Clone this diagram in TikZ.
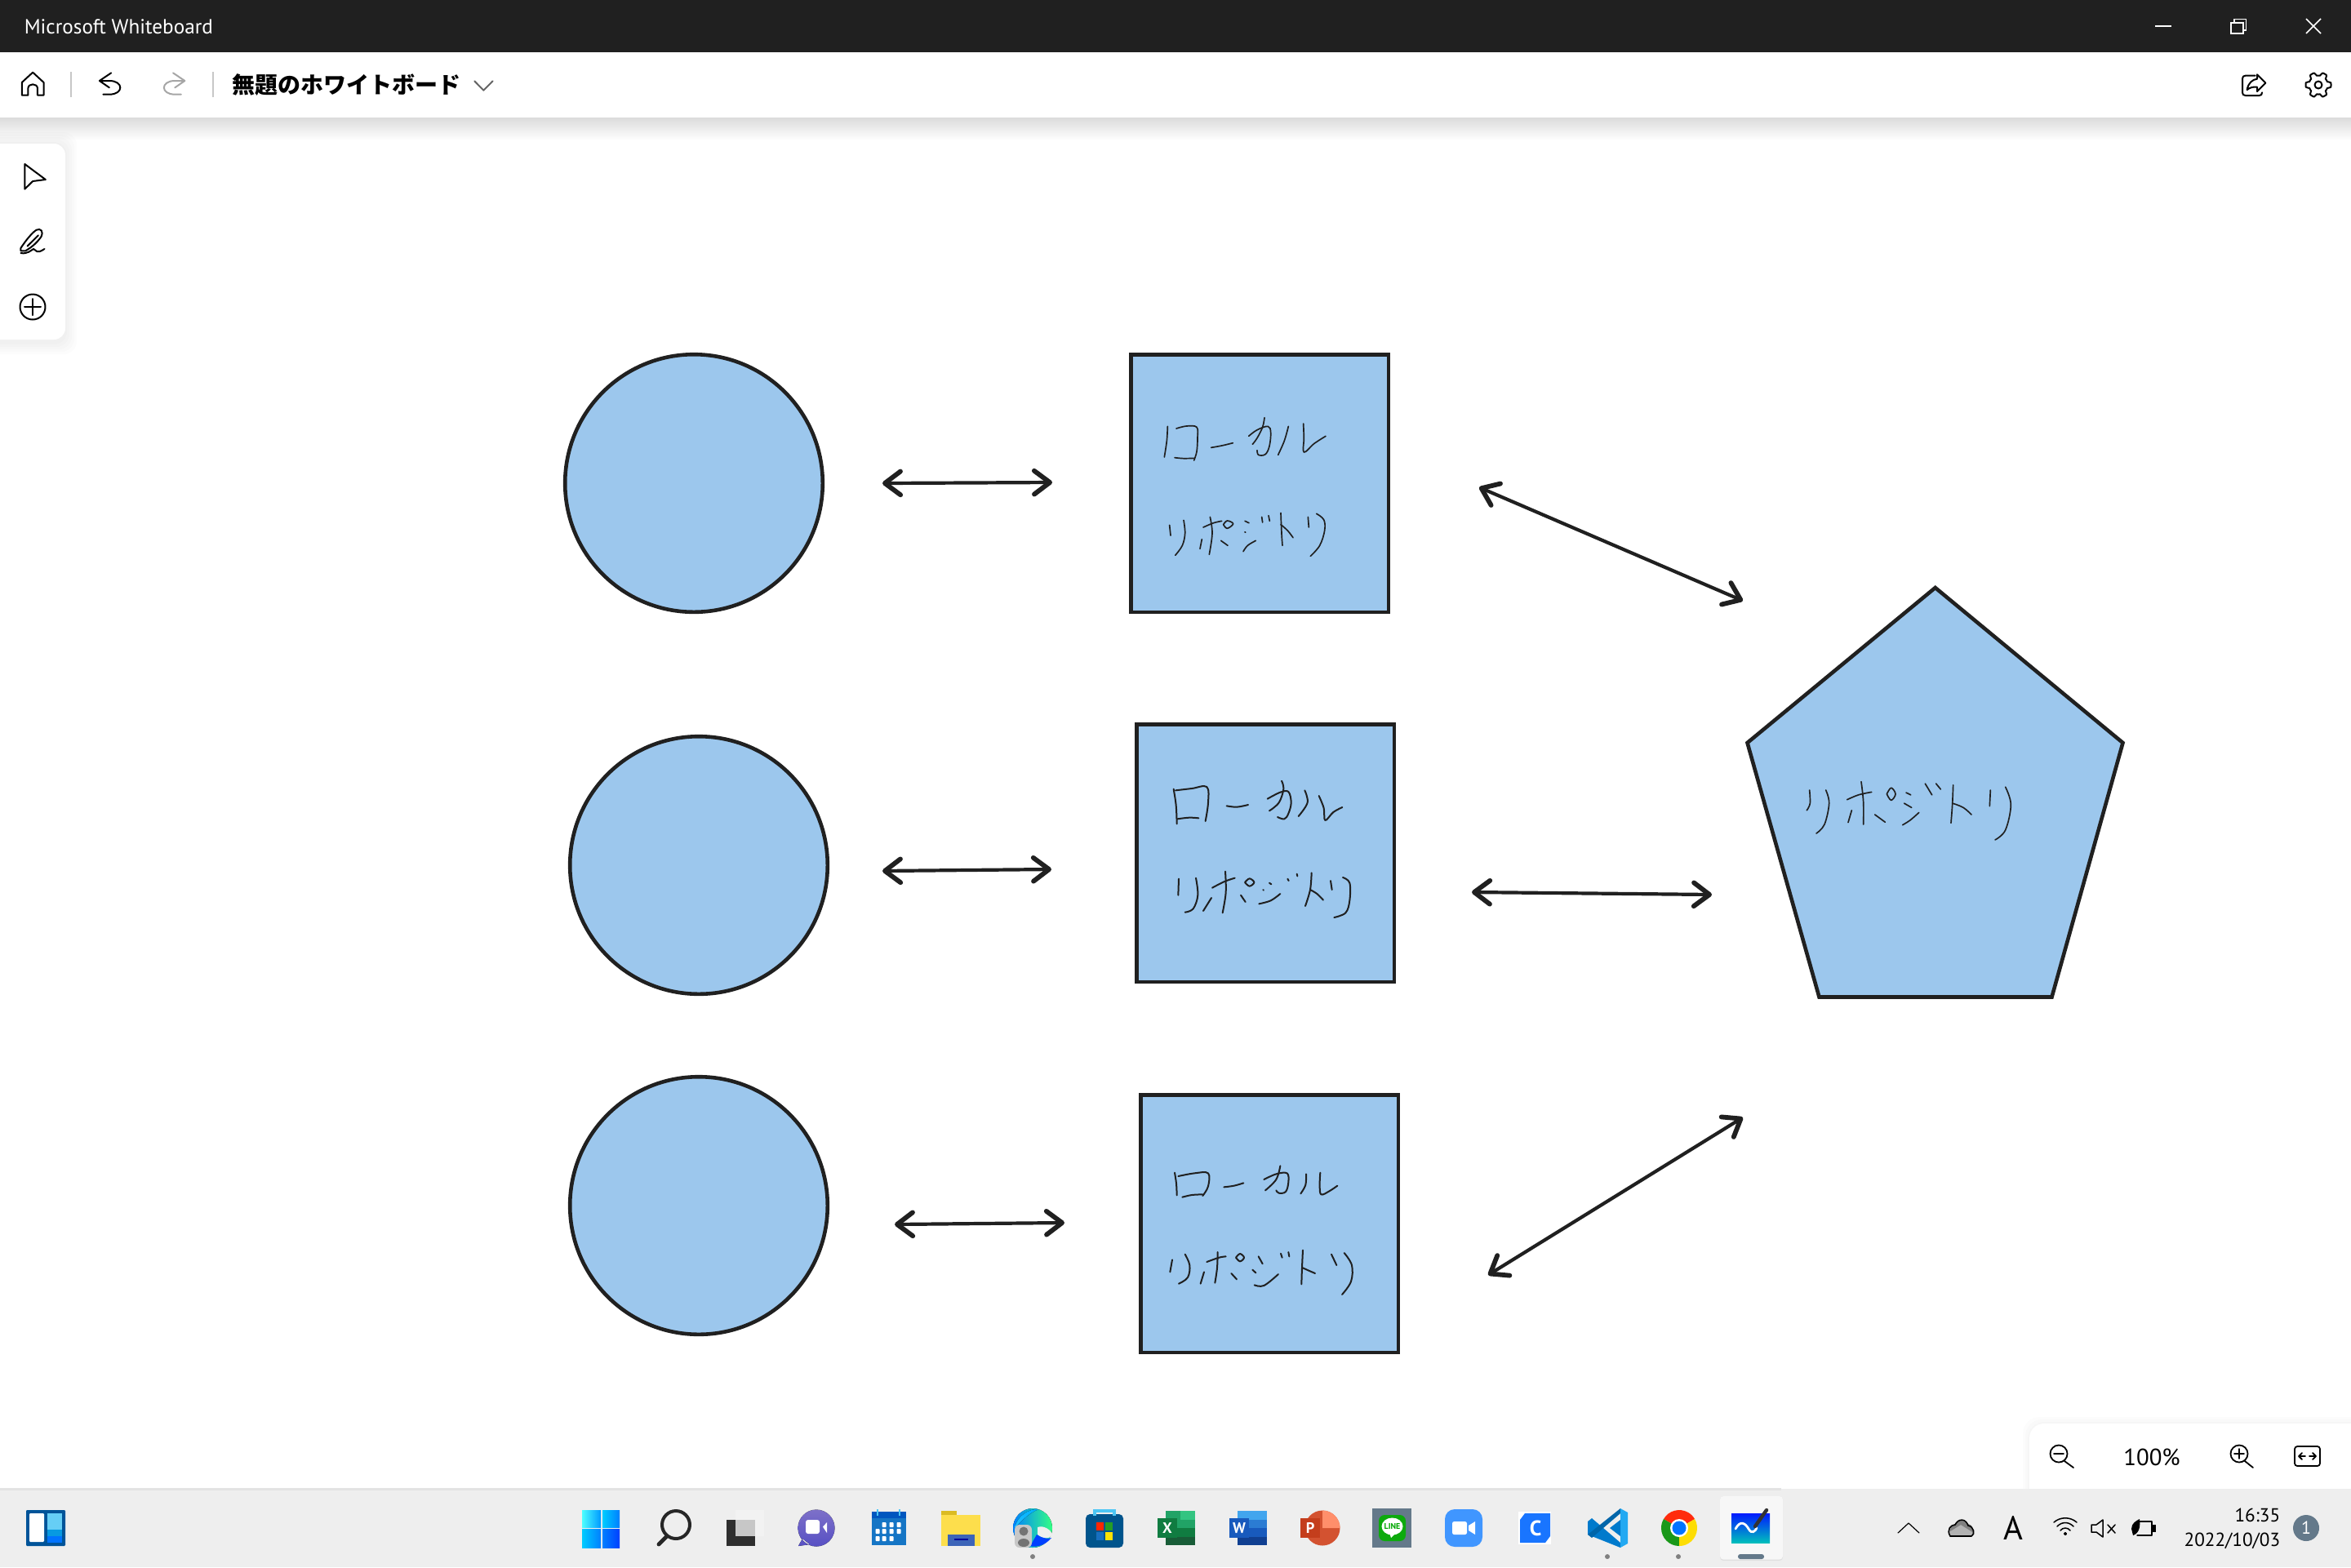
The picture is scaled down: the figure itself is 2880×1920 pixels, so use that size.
\documentclass[tikz,border=0pt]{standalone}
\usepackage{fontspec}
\setmainfont{PT Sans}
\newfontfamily\jpfont{Noto Sans CJK JP}
\usetikzlibrary{arrows.meta,shapes.geometric,calc}
\definecolor{ink}{HTML}{202020}
\definecolor{shapeblue}{HTML}{9CC7ED}
\definecolor{taskbg}{HTML}{EEEEEE}
\definecolor{slate}{HTML}{64798A}
\tikzset{
  shapeline/.style={draw=ink,line width=1.15pt,fill=shapeblue,inner sep=0pt,line join=miter},
  roundshape/.style={shapeline,circle,minimum size=78.9pt},
  squareshape/.style={shapeline,rectangle,minimum size=78.9pt},
  headtip/.tip={Straight Barb[length=4.8pt,width=7.2pt,line width=1.45pt,round]},
  bothway/.style={draw=ink,line width=1.05pt,line cap=round,{headtip}-{headtip}},
  pen/.style={draw=ink,line width=0.42pt,line cap=round,line join=round},
  penb/.style={draw=ink,line width=0.5pt,line cap=round,line join=round},
  icon/.style={draw=black,line width=0.5pt,line cap=round,line join=round},
  tray/.style={draw=black,line width=0.38pt,line cap=round,line join=round},
  uitext/.style={inner sep=0pt,text=black},
  zoomthird/.style={x=0.08333pt,y=-0.08333pt},
  zoomone/.style={x=0.11161pt,y=-0.08333pt},
  zoompent/.style={x=0.08333pt,y=-0.0861pt},
}
\begin{document}
\begin{tikzpicture}[x=0.25pt,y=-0.25pt]
\useasboundingbox (0,0) rectangle (2880,1920);
\fill[white] (0,0) rectangle (2880,1920);
% window chrome
\fill[top color=black!14,bottom color=white] (0,144) rectangle (2880,172);
\fill[ink] (0,0) rectangle (2880,64);
\fill[white] (0,64) rectangle (2880,144);
\node[uitext,text=white,anchor=west,font=\fontsize{6.3pt}{8pt}\selectfont] (title) at (29,33) {Microsoft Whiteboard};
\node[uitext,anchor=west,font=\jpfont\bfseries\fontsize{7pt}{8pt}\selectfont] (boardname) at (284,104) {無題のホワイトボード};
% window buttons
\draw[white,line width=0.4pt] (2640,32) -- (2660,32);
\draw[white,line width=0.4pt] (2733,28) rectangle (2748,41);
\draw[white,line width=0.4pt] (2737,28) -- (2737,23.5) -- (2751.5,23.5) -- (2751.5,37) -- (2748,37);
\draw[white,line width=0.4pt] (2825,23) -- (2843,41) (2843,23) -- (2825,41);
% toolbar icons
\begin{scope}[zoomone]
\draw[icon] (60,350) -- (60,303) -- (90,266) -- (120,303) -- (120,350) -- (103,350) -- (103,325) .. controls (103,305) and (77,305) .. (77,325) -- (77,350) -- cycle;
\draw[draw=black!22,line width=0.5pt] (195,265) -- (195,358) (584,265) -- (584,358);
\draw[icon] (305,268) -- (273,297) -- (300,322) (273,297) -- (300,297) .. controls (340,297) and (340,347) .. (300,347) -- (283,347);
\draw[icon,draw=black!35] (475,268) -- (507,297) -- (480,322) (507,297) -- (480,297) .. controls (440,297) and (440,347) .. (480,347) -- (497,347);
\draw[icon,draw=black!60] (1302,298) -- (1327,332) -- (1352,298);
\end{scope}
\begin{scope}[shift={(2500,0)},zoomthird]
\draw[icon] (788,278) -- (752,278) .. controls (745,278) and (741,282) .. (741,289) -- (741,340) .. controls (741,347) and (745,351) .. (752,351) -- (803,351) .. controls (810,351) and (813,347) .. (813,340);
\draw[icon] (795,274) -- (826,305) -- (795,336) -- (795,320) .. controls (780,318) and (768,322) .. (758,330) .. controls (762,305) and (778,292) .. (795,290) -- cycle;
\end{scope}
\draw[icon] plot[domain=0:360,samples=145,smooth] ({2840+(13.5+2*max(-1,min(1,2*cos(6*\x))))*cos(\x)},{104+(13.5+2*max(-1,min(1,2*cos(6*\x))))*sin(\x)}) -- cycle;
\draw[icon] (2840,104) circle[radius=4.5];
% left tool panel
\foreach \g in {14,11,8,5,2}{\fill[black,opacity=0.012,rounded corners=4pt] (-20,176-\g) rectangle (80+\g,416+\g+4);}
\fill[white,rounded corners=3.5pt] (-20,176) rectangle (80,416);
\begin{scope}[zoomone]
\draw[icon] (68,603) -- (125,660) -- (90,666) -- (68,695) -- cycle;
\draw[icon] (57,912) .. controls (70,885) and (88,855) .. (100,845) .. controls (112,838) and (120,850) .. (113,870) .. controls (100,895) and (85,910) .. (70,922) -- (57,922) -- cycle (75,905) -- (105,865);
\draw[icon] (57,930) .. controls (75,935) and (85,920) .. (92,915) .. controls (100,920) and (100,935) .. (122,915);
\end{scope}
\draw[icon] (40,376) circle[radius=15.5];
\draw[icon] (40,366) -- (40,386) (30,376) -- (50,376);
% zoom panel
\foreach \g in {8,5,2}{\fill[black,opacity=0.012,rounded corners=5pt] (2486-\g,1744-\g) rectangle (2900,1850);}
\fill[white,rounded corners=4.5pt] (2486,1744) rectangle (2920,1850);
\draw[tray,line width=0.45pt] (2522,1781) circle[radius=10.5] (2529,1790) -- (2540,1798) (2516,1781) -- (2528,1781);
\node[uitext,font=\fontsize{7.2pt}{8pt}\selectfont] (zoomlevel) at (2636,1785) {100\%};
\draw[tray,line width=0.45pt] (2743,1781) circle[radius=10.5] (2750,1790) -- (2760,1798) (2737,1781) -- (2749,1781) (2743,1775) -- (2743,1787);
\draw[tray,line width=0.45pt,rounded corners=0.8pt] (2811,1772) rectangle (2842,1796);
\draw[tray,line width=0.45pt] (2816,1784) -- (2824,1784) (2829,1784) -- (2837,1784) (2820,1780) -- (2816,1784) -- (2820,1788) (2833,1780) -- (2837,1784) -- (2833,1788);
% taskbar
\fill[taskbg] (0,1824) rectangle (2880,1920);
\fill[black!11] (0,1823) rectangle (2182,1826);
% widgets
\fill[blue!45!cyan!60!black,rounded corners=0.3pt] (32,1850) rectangle (80,1894);
\fill[white,rounded corners=0.3pt] (36,1854) rectangle (54,1889);
\fill[cyan!60] (58,1854) rectangle (76,1874);
\fill[cyan!85!blue] (58,1874) rectangle (76,1882);
\fill[blue!55!cyan] (58,1882) rectangle (76,1890);
% start
\fill[left color=cyan!70,right color=cyan!60!blue] (713,1850) rectangle (736,1871);
\fill[left color=cyan!80!blue,right color=cyan!50!blue] (738,1850) rectangle (759,1871);
\fill[left color=cyan!80!blue,right color=cyan!50!blue] (713,1873) rectangle (736,1896);
\fill[left color=cyan!50!blue,right color=blue!75!cyan] (738,1873) rectangle (759,1896);
% search
\draw[draw=black!85,line width=1pt] (828,1868) circle[radius=17];
\draw[draw=black!85,line width=1.2pt,line cap=round] (817,1882) -- (807,1892);
% task view
\fill[black!82] (890,1862) rectangle (925,1894);
\fill[black!5] (901,1850) rectangle (936,1882);
\fill[black!22] (901,1862) rectangle (925,1882);
% chat
\definecolor{chata}{HTML}{7D70C8}\definecolor{chatb}{HTML}{5750C4}
\fill[top color=chata,bottom color=chatb] (1000,1872) circle[radius=22.5] (983,1885) -- (978,1894) -- (992,1892) -- cycle;
\fill[white,rounded corners=0.7pt] (987,1862) rectangle (1004,1879);
\fill[white] (1008,1870.5) -- (1013,1865) -- (1013,1878) -- cycle;
% calendar
\fill[cyan!55!blue] (1068,1856) rectangle (1110,1893);
\fill[blue!55!cyan!75!black] (1068,1852) rectangle (1110,1860);
\draw[cyan!70,line width=0.6pt] (1075,1849) -- (1075,1857) (1102,1849) -- (1102,1857);
\foreach \a/\b in {1083/1868,1092/1868,1101/1868,1075/1876,1083/1876,1092/1876,1101/1876,1075/1885,1083/1885,1092/1885}{\fill[white,rounded corners=0.2pt] (\a-2.5,\b-3) rectangle (\a+2.5,\b+3);}
% explorer
\fill[yellow!70!orange!85!black] (1153,1851) rectangle (1172,1860);
\fill[yellow!70!orange!70] (1153,1856) rectangle (1201,1894);
\fill[cyan!30!blue!85] (1161,1880) rectangle (1194,1894);
\fill[blue!60!black] (1169,1885) rectangle (1186,1887);
% edge
\fill[left color=blue!50!cyan,right color=green!60!cyan!80] (1265,1872) circle[radius=24];
\fill[top color=cyan!70!blue,bottom color=cyan!70!blue!85] (1243,1872) .. controls (1246,1856) and (1262,1848) .. (1272,1849) .. controls (1258,1855) and (1251,1864) .. (1243,1872) -- cycle;
\fill[taskbg] (1271,1871) .. controls (1279,1868) and (1288,1875) .. (1289,1880) .. controls (1283,1888) and (1276,1884) .. (1271,1880) -- cycle;
\fill[blue!75!cyan] (1270,1880) .. controls (1280,1887) and (1288,1884) .. (1288,1884) .. controls (1280,1894) and (1268,1896) .. (1262,1894) -- cycle;
\fill[black!22,rounded corners=1.5pt] (1243,1868) rectangle (1264,1896);
\fill[black!55] (1254,1876) circle[radius=5.5];
\fill[black!55] (1254,1890) ellipse[x radius=7,y radius=5];
\fill[black!50] (1265,1907) circle[radius=3];
% store
\fill[blue!40!cyan!55!black,rounded corners=1.3pt] (1330,1855) rectangle (1376,1896);
\draw[cyan!70,line width=0.8pt] (1341,1857) -- (1341,1851) -- (1365,1851) -- (1365,1857);
\fill[red!70!orange] (1343,1865) rectangle (1352,1875);
\fill[green!55!black!85] (1354,1865) rectangle (1363,1875);
\fill[cyan!50!blue] (1343,1877) rectangle (1352,1887);
\fill[yellow!85!orange] (1354,1877) rectangle (1363,1887);
% excel
\definecolor{xa}{HTML}{21A366}\definecolor{xb}{HTML}{33C481}\definecolor{xc}{HTML}{107C41}\definecolor{xd}{HTML}{185C37}
\fill[xa] (1428,1851) rectangle (1446,1872);
\fill[xb] (1446,1851) rectangle (1464,1862);
\fill[xa] (1446,1862) rectangle (1464,1872);
\fill[xc] (1428,1872) rectangle (1464,1883);
\fill[xd] (1428,1883) rectangle (1464,1893);
\node[fill=xc,minimum size=5.8pt,inner sep=0pt,text=white,font=\bfseries\fontsize{4.6pt}{5pt}\selectfont] (xl) at (1430,1872) {X};
% word
\definecolor{wa}{HTML}{41A5EE}\definecolor{wb}{HTML}{2B7CD3}\definecolor{wc}{HTML}{185ABD}\definecolor{wd}{HTML}{103F91}
\fill[wa] (1516,1851) rectangle (1552,1862);
\fill[wb] (1516,1862) rectangle (1552,1872);
\fill[wc] (1516,1872) rectangle (1552,1883);
\fill[wd] (1516,1883) rectangle (1552,1893);
\node[fill=wc,minimum size=5.8pt,inner sep=0pt,text=white,font=\bfseries\fontsize{4.6pt}{5pt}\selectfont] (wd) at (1518,1872) {W};
% powerpoint
\definecolor{pa}{HTML}{FF8F6B}\definecolor{pb}{HTML}{D35230}\definecolor{pc}{HTML}{C43E1C}
\fill[pb] (1620,1872) circle[radius=21.5];
\fill[pa] (1620,1872) -- (1641.5,1872) arc[start angle=0,end angle=-90,radius=21.5] -- cycle;
\node[fill=pc,minimum size=5.8pt,inner sep=0pt,text=white,font=\bfseries\fontsize{4.6pt}{5pt}\selectfont] (pp) at (1605,1872) {P};
% line
\fill[slate] (1681,1848) rectangle (1729,1896);
\fill[green!65!black!95,rounded corners=1.8pt] (1689,1856) rectangle (1722,1888);
\fill[white] (1705.5,1870) ellipse[x radius=13,y radius=10.5];
\fill[white] (1702,1878) -- (1710,1878) -- (1704,1884) -- cycle;
\node[uitext,text=green!65!black,font=\bfseries\fontsize{2.5pt}{3pt}\selectfont] (linelabel) at (1705.5,1870) {LINE};
% zoom
\fill[blue!55!cyan!75,rounded corners=3pt] (1770,1849) rectangle (1816,1895);
\fill[white,rounded corners=0.6pt] (1779,1864) rectangle (1797,1880);
\fill[white] (1799,1869) -- (1807,1864) -- (1807,1880) -- (1799,1875) -- cycle;
% c app
\fill[white] (1860,1852) rectangle (1900,1892);
\fill[blue!60!cyan!90] (1862,1862) -- (1868,1854) -- (1899,1854) -- (1899,1882) -- (1893,1890) -- (1862,1890) -- cycle;
\node[uitext,text=white,font=\bfseries\fontsize{6.5pt}{7pt}\selectfont] (capp) at (1881,1872) {C};
% vs code
\definecolor{va}{HTML}{23A9F2}\definecolor{vb}{HTML}{0065A9}\definecolor{vc}{HTML}{007ACC}
\fill[vc] (1945,1864) -- (1950,1860) -- (1985,1890) -- (1985,1896) -- (1945,1880) -- cycle;
\fill[vb] (1945,1880) -- (1950,1884) -- (1985,1854) -- (1985,1848) -- cycle;
\fill[va] (1985,1848) -- (1994,1853) -- (1994,1891) -- (1985,1896) -- cycle;
\fill[vc] (1972,1872) -- (1985,1862) -- (1985,1882) -- cycle;
\fill[black!50] (1969,1907) circle[radius=3];
% chrome
\fill[red!75!orange!95] (2057,1872) -- +(-150:22) arc[start angle=-150,end angle=-30,radius=22] -- cycle;
\fill[green!55!black!90] (2057,1872) -- +(90:22) arc[start angle=90,end angle=210,radius=22] -- cycle;
\fill[yellow!80!orange] (2057,1872) -- +(-30:22) arc[start angle=-30,end angle=90,radius=22] -- cycle;
\fill[white] (2057,1872) circle[radius=11];
\fill[blue!55!cyan] (2057,1872) circle[radius=8.5];
\fill[black!50] (2056,1907) circle[radius=3];
% whiteboard taskbar
\fill[black!12,rounded corners=1pt] (2107,1833) rectangle (2184,1912);
\fill[black!3,rounded corners=1pt] (2107,1833) rectangle (2184,1910.5);
\fill[top color=blue!90!cyan,bottom color=cyan!65!green!75!blue] (2121,1854) rectangle (2168,1890);
\draw[white,line width=0.7pt,line cap=round] (2126,1873) .. controls (2132,1862) and (2138,1866) .. (2142,1873) .. controls (2146,1880) and (2150,1876) .. (2152,1872);
\draw[black!80,line width=1.1pt,line cap=round] (2150,1870) -- (2164,1850);
\fill[slate,rounded corners=0.7pt] (2129,1904) rectangle (2161,1910);
% tray
\draw[tray,line width=0.3pt] (2325,1878) -- (2338,1866) -- (2351,1878);
\fill[black!30] (2389,1882) .. controls (2384,1874) and (2390,1868) .. (2395,1868) .. controls (2399,1860) and (2408,1860) .. (2411,1869) .. controls (2418,1870) and (2420,1880) .. (2415,1882) -- cycle;
\fill[black!50] (2389,1876) -- (2402,1868) -- (2418,1878) -- (2415,1869) -- (2402,1862) -- (2390,1870) -- cycle;
\draw[tray,line width=0.4pt] (2389,1882) .. controls (2384,1874) and (2390,1868) .. (2395,1868) .. controls (2399,1860) and (2408,1860) .. (2411,1869) .. controls (2418,1870) and (2420,1880) .. (2415,1882) -- cycle;
\node[uitext,font=\fontsize{10.2pt}{11pt}\selectfont] (ime) at (2466,1872) {A};
\draw[tray] (2530,1879) circle[radius=1.4];
\draw[tray] (2524,1875) .. controls (2527,1871) and (2533,1871) .. (2536,1875);
\draw[tray] (2520,1870) .. controls (2526,1864) and (2534,1864) .. (2540,1870);
\draw[tray] (2516,1865) .. controls (2524,1858) and (2536,1858) .. (2544,1865);
\draw[tray] (2562,1868) -- (2568,1868) -- (2576,1862) -- (2576,1883) -- (2568,1877) -- (2562,1877) -- cycle;
\draw[tray] (2582,1868) -- (2591,1878) (2591,1868) -- (2582,1878);
\draw[tray] (2618,1864) -- (2636,1864) -- (2636,1881) -- (2618,1881);
\fill[black] (2637,1868) rectangle (2641,1877);
\fill[black] (2611,1873) .. controls (2611,1866) and (2617,1863) .. (2621,1861) .. controls (2622,1870) and (2621,1878) .. (2613,1881) -- cycle;
\node[uitext,anchor=east,font=\fontsize{5.8pt}{7pt}\selectfont] (clock) at (2794,1856) {16:35};
\node[uitext,anchor=east,font=\fontsize{5.8pt}{7pt}\selectfont] (date) at (2794,1888) {2022/10/03};
\node[fill=slate,circle,minimum size=8pt,inner sep=0pt,text=white,font=\fontsize{5.5pt}{6pt}\selectfont] (badge) at (2825,1872) {1};
% diagram shapes
\node[roundshape] (c1) at (850,592) {};
\node[roundshape] (c2) at (856,1060) {};
\node[roundshape] (c3) at (856,1477) {};
\node[squareshape] (s1) at (1543,592) {};
\node[squareshape] (s2) at (1550,1045) {};
\node[squareshape] (s3) at (1555,1499) {};
\coordinate (pa) at (2370.7,720);
\coordinate (pb) at (2600.5,910);
\coordinate (pc) at (2513.5,1221.5);
\coordinate (pd) at (2228.5,1221.5);
\coordinate (pe) at (2140.5,910);
\draw[shapeline] (pa) -- (pb) -- (pc) -- (pd) -- (pe) -- cycle;
% connectors
\coordinate (a1l) at (1081,592);\coordinate (a1r) at (1289,591);
\coordinate (a2l) at (1081,1067);\coordinate (a2r) at (1288,1065);
\coordinate (a3l) at (1096,1500);\coordinate (a3r) at (1304,1498);
\coordinate (b1l) at (1812,597);\coordinate (b1r) at (2135,736);
\coordinate (b2l) at (1803,1093);\coordinate (b2r) at (2097,1096);
\coordinate (b3l) at (1823,1562);\coordinate (b3r) at (2135,1369);
\draw[bothway] (a1l) -- (a1r);
\draw[bothway] (a2l) -- (a2r);
\draw[bothway] (a3l) -- (a3r);
\draw[bothway] (b1l) -- (b1r);
\draw[bothway] (b2l) -- (b2r);
\draw[bothway] (b3l) -- (b3r);
% handwriting, square 1
\begin{scope}[shift={(1340,420)},zoomthird]
\foreach \s in {
 {(271,307)(268,360)(259,420)},{(303,315)(340,306)(378,310)(381,350)(378,400)(368,432)},{(297,422)(330,425)(368,424)},
 {(431,385)(470,378)(511,368)},
 {(569,343)(600,320)(640,307)(650,330)(645,380)(630,410)(605,412)(600,395)},{(627,275)(620,310)(600,350)(583,373)},
 {(715,307)(700,360)(677,412)},{(770,297)(772,350)(772,402)(810,370)(852,343)},
 {(278,670)(282,708)},{(330,652)(335,700)(325,745)(299,781)},
 {(402,678)(440,662)(470,655)},{(427,640)(435,700)(424,778)},{(397,722)(390,757)},{(467,727)(492,745)},
 {(476,668)(490,654)(512,665)(490,682)(476,668)},
 {(555,655)(570,662)},{(555,695)(557,697)},{(549,767)(565,745)(595,727)},
 {(617,640)(620,660)},{(642,635)(646,655)},
 {(687,625)(690,700)(693,745)},{(687,668)(712,690)(732,716)},
 {(787,640)(790,678)},{(818,628)(845,650)(848,690)(830,745)(796,784)}}
 {\draw[pen] plot[smooth,tension=0.6] coordinates \s;}
\end{scope}
% handwriting, square 2
\begin{scope}[shift={(1360,900)},zoomthird]
\foreach \s in {
 {(233,200)(242,260)(245,328)},{(240,205)(300,198)(355,192)(360,250)(350,318)},{(247,310)(290,305)(325,307)},
 {(428,262)(465,266)(507,258)},
 {(578,236)(625,212)(655,210)(665,250)(655,290)(640,310)(615,303)},{(630,170)(637,200)(620,250)(585,280)},
 {(715,205)(725,250)(692,300)},{(767,225)(785,270)(790,315)(820,285)(853,267)},
 {(252,530)(250,590)},{(315,527)(322,590)(305,640)(275,653)},
 {(375,563)(420,540)(458,527)},{(423,503)(425,580)(413,655)},{(372,600)(342,648)},{(480,590)(497,615)},
 {(495,543)(512,529)(529,543)(512,557)(495,543)},
 {(585,545)(592,550)},{(562,570)(564,572)},{(547,622)(590,610)(625,585)},
 {(652,530)(656,537)},{(686,512)(688,520)},
 {(740,508)(735,570)(717,630)},{(735,570)(760,585)(783,608)},
 {(810,537)(815,570)},{(855,525)(880,545)(880,610)(865,655)(823,672)}}
 {\draw[penb] plot[smooth,tension=0.6] coordinates \s;}
\end{scope}
% handwriting, square 3
\begin{scope}[shift={(1360,1380)},zoomthird]
\foreach \s in {
 {(237,170)(243,210)(245,253)},{(250,183)(310,172)(360,172)(360,220)(340,255)},{(265,260)(300,252)(340,250)},
 {(418,223)(455,218)(490,208)},
 {(565,195)(610,175)(650,172)(655,205)(645,240)(620,245)(610,235)},{(625,145)(610,195)(570,235)},
 {(720,175)(718,215)(700,247)},{(772,170)(770,215)(775,250)(805,238)(835,218)},
 {(228,490)(220,535)},{(275,470)(292,510)(285,555)(252,578)},
 {(355,498)(400,482)(425,478)},{(395,462)(393,520)(385,575)},{(345,535)(332,578)},{(445,540)(465,562)},
 {(462,482)(477,468)(492,482)(477,496)(462,482)},
 {(545,478)(560,505)},{(523,527)(535,538)},{(530,583)(565,585)(618,543)},
 {(627,467)(632,482)},{(655,462)(658,478)},
 {(708,455)(705,520)(703,580)},{(708,520)(730,530)(753,540)},
 {(813,470)(832,510)},{(860,465)(888,510)(885,570)(852,618)}}
 {\draw[penb] plot[smooth,tension=0.6] coordinates \s;}
\end{scope}
% handwriting, pentagon
\begin{scope}[shift={(2100,700)},zoompent]
\foreach \s in {
 {(350,778)(352,825)(340,850)},{(410,778)(422,825)(405,900)(375,932)},
 {(488,812)(530,795)(578,785)},{(540,748)(548,820)(548,900)},{(505,850)(492,893)},{(590,865)(628,892)},
 {(634,792)(650,770)(666,792)(650,814)(634,792)},
 {(705,787)(722,795)},{(698,825)(725,840)},{(692,902)(720,885)(752,858)},
 {(775,755)(800,795)},{(815,755)(832,775)},
 {(878,760)(875,830)(870,895)},{(876,825)(915,840)(945,865)},
 {(1015,778)(1012,835)},{(1070,767)(1090,830)(1070,920)(1032,955)}}
 {\draw[pen] plot[smooth,tension=0.6] coordinates \s;}
\end{scope}
\end{tikzpicture}
\end{document}
